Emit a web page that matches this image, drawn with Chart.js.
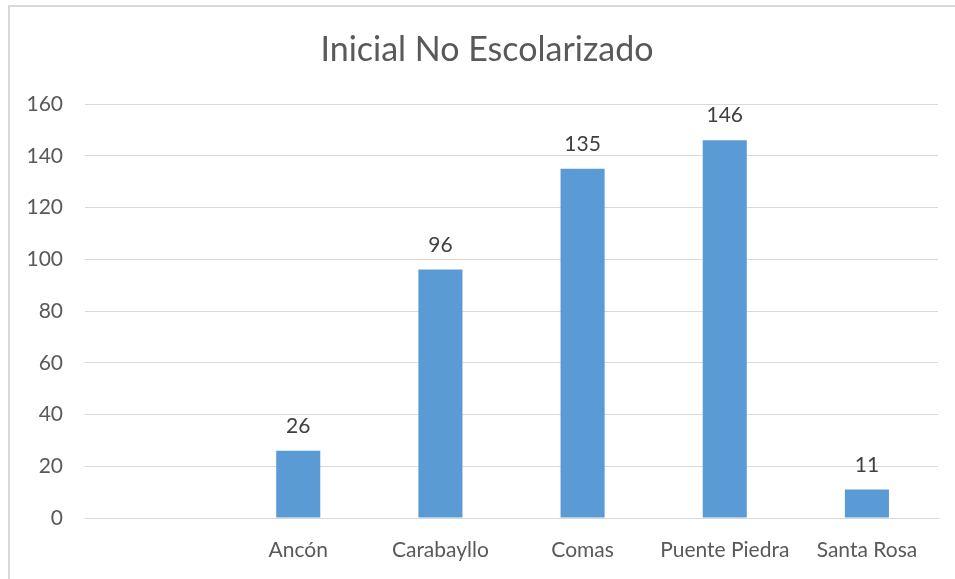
<!DOCTYPE html>
<html>
<head>
<meta charset="utf-8">
<script src="https://cdn.jsdelivr.net/npm/chart.js@4"></script>
<style>
body{margin:0;background:#fff;}
#wrap{position:relative;width:955px;height:579px;}
#frame{position:absolute;left:8px;top:5px;right:-10px;bottom:-10px;border-left:2px solid #d9d9d9;border-top:2px solid #d9d9d9;}
canvas{position:absolute;left:0;top:0;}
</style>
</head>
<body>
<div id="wrap">
<div id="frame"></div>
<canvas id="grafico" width="955" height="579"></canvas>
</div>
<script>
const titulo = "Inicial No Escolarizado";
const distritos = ["", "Ancón", "Carabayllo", "Comas", "Puente Piedra", "Santa Rosa"];
const valores = [null, 26, 96, 135, 146, 11];
const marcasY = [0, 20, 40, 60, 80, 100, 120, 140, 160];

const fonte = "Lato, 'Open Sans', sans-serif";

// titulo e rotulos de dados
const extras = {
id:"extras",
afterDatasetsDraw(chart){
const ctx = chart.ctx;
ctx.save();
ctx.fillStyle = "#595959";
ctx.font = "34px " + fonte;
ctx.textAlign = "center";
ctx.textBaseline = "middle";
ctx.fillText(titulo, 487, 50);

ctx.fillStyle = "#404040";
ctx.font = "21px " + fonte;
ctx.textBaseline = "alphabetic";
chart.getDatasetMeta(0).data.forEach((bar, i) => {
if(valores[i] === null) return;
ctx.fillText(valores[i], bar.x, bar.y - 18);
});
ctx.restore();
}
};

new Chart(
document.getElementById("grafico"),
{
type:"bar",
data:{
labels:distritos,
datasets:[{
data:valores,
backgroundColor:"#5b9bd5",
categoryPercentage:1,
barPercentage:0.31
}]
},
options:{
responsive:false,
animation:false,
layout:{padding:{left:0,right:17,top:104,bottom:0}},
plugins:{legend:{display:false},tooltip:{enabled:false},title:{display:false}},
scales:{
x:{
grid:{display:false},
border:{color:"#d9d9d9",width:1},
ticks:{color:"#595959",font:{size:21,family:fonte},padding:12,maxRotation:0,autoSkip:false},
afterFit(scale){ scale.height = 61; }
},
y:{
min:0,
max:160,
afterBuildTicks(scale){ scale.ticks = marcasY.map(v => ({value:v})); },
grid:{color:"#d9d9d9",lineWidth:1,drawTicks:false},
border:{display:false},
ticks:{color:"#595959",font:{size:21,family:fonte},padding:22},
afterFit(scale){ scale.width = 85; }
}
}
},
plugins:[extras]
}
);
</script>
</body>
</html>
